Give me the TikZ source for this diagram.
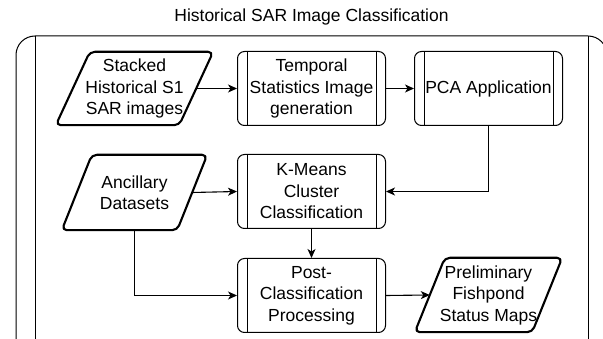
\documentclass[tikz,border=0pt]{standalone}
\usepackage{fontspec}
\setmainfont{Liberation Sans}
\usetikzlibrary{arrows.meta,calc}
\begin{document}
\begin{tikzpicture}[x=1pt,y=-1pt,
  txt/.style={font=\fontsize{17.5}{21.5}\selectfont, align=center, inner sep=0pt},
  procbox/.style={txt, draw, line width=1pt, rounded corners=7pt, minimum width=148pt, minimum height=74pt,
    path picture={
      \draw[line width=1pt] ([xshift=9.5pt]path picture bounding box.north west) -- ([xshift=9.5pt]path picture bounding box.south west);
      \draw[line width=1pt] ([xshift=-9.5pt]path picture bounding box.north east) -- ([xshift=-9.5pt]path picture bounding box.south east);
    }},
  databox/.style={txt, draw=none},
  para/.style={line width=2.1pt, rounded corners=5pt, line join=round},
  conn/.style={line width=1.1pt, -{Stealth[length=9pt,width=8pt,inset=2.5pt]}},
]
\useasboundingbox (0,0) rectangle (603,339);

% title
\node[txt] (title) at (311.5,17) {Historical SAR Image Classification};

% outer container
\draw[line width=1pt, rounded corners=19pt] (16,36) rectangle (607,358);
\draw[line width=1pt] (35,36) -- (35,358);
\draw[line width=1pt] (588,36) -- (588,358);

% process boxes
\node[procbox] (tmp)  at (311.5,88.5)  {Temporal\\Statistics Image\\generation};
\node[procbox] (pca)  at (488.5,88.5)  {PCA Application};
\node[procbox] (km)   at (311.5,191.5) {K-Means\\Cluster\\Classification};
\node[procbox] (post) at (311.5,295.5) {Post-\\Classification\\Processing};

% data (parallelogram) nodes
\node[databox, minimum width=157pt, minimum height=73pt] (st) at (134.5,88.5) {Stacked\\Historical S1\\SAR images};
\draw[para] ([xshift=34pt]st.north west) -- (st.north east) -- ([xshift=-34pt]st.south east) -- (st.south west) -- cycle;

\node[databox, minimum width=145pt, minimum height=75pt] (anc) at (134.5,192.5) {Ancillary\\Datasets};
\draw[para] ([xshift=30pt]anc.north west) -- (anc.north east) -- ([xshift=-30pt]anc.south east) -- (anc.south west) -- cycle;

\node[databox, minimum width=147pt, minimum height=74pt] (pre) at (488.5,295) {Preliminary\\Fishpond\\Status Maps};
\draw[para] ([xshift=30pt]pre.north west) -- (pre.north east) -- ([xshift=-30pt]pre.south east) -- (pre.south west) -- cycle;

% connectors
\draw[conn] ([xshift=-17pt]st.east) -- (tmp.west);
\draw[conn] (tmp.east) -- (pca.west);
\draw[conn] (pca.south) |- (km.east);
\draw[conn] ([xshift=-15pt]anc.east) -- (km.west);
\draw[conn] (km.south) -- (post.north);
\draw[conn] (anc.south) |- (post.west);
\draw[conn] (post.east) -- ([xshift=15pt]pre.west);
\end{tikzpicture}
\end{document}
